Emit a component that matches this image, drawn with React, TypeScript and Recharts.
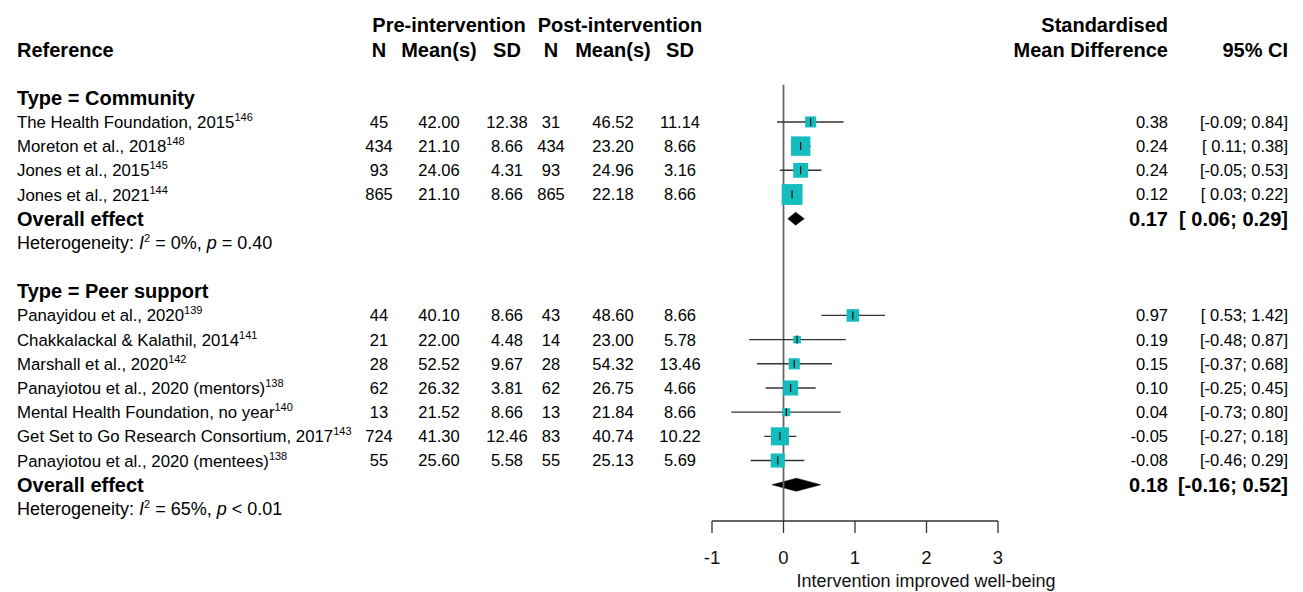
import {
  Area,
  ComposedChart,
  ErrorBar,
  ReferenceLine,
  Scatter,
  XAxis,
  YAxis,
  ZAxis,
} from "recharts"

const subgroups = ["Community", "Peer support"]
const studies = [
  "The Health Foundation, 2015",
  "Moreton et al., 2018",
  "Jones et al., 2015",
  "Jones et al., 2021",
  "Panayidou et al., 2020",
  "Chakkalackal & Kalathil, 2014",
  "Marshall et al., 2020",
  "Panayiotou et al., 2020 (mentors)",
  "Mental Health Foundation, no year",
  "Get Set to Go Research Consortium, 2017",
  "Panayiotou et al., 2020 (mentees)",
]
const refs = ["146", "148", "145", "144", "139", "141", "142", "138", "140", "143", "138"]
const studyGroup = [0, 0, 0, 0, 1, 1, 1, 1, 1, 1, 1]
const preN = [45, 434, 93, 865, 44, 21, 28, 62, 13, 724, 55]
const preMean = [42.0, 21.1, 24.06, 21.1, 40.1, 22.0, 52.52, 26.32, 21.52, 41.3, 25.6]
const preSD = [12.38, 8.66, 4.31, 8.66, 8.66, 4.48, 9.67, 3.81, 8.66, 12.46, 5.58]
const postN = [31, 434, 93, 865, 43, 14, 28, 62, 13, 83, 55]
const postMean = [46.52, 23.2, 24.96, 22.18, 48.6, 23.0, 54.32, 26.75, 21.84, 40.74, 25.13]
const postSD = [11.14, 8.66, 3.16, 8.66, 8.66, 5.78, 13.46, 4.66, 8.66, 10.22, 5.69]
const smd = [0.38, 0.24, 0.24, 0.12, 0.97, 0.19, 0.15, 0.1, 0.04, -0.05, -0.08]
const ciLow = [-0.09, 0.11, -0.05, 0.03, 0.53, -0.48, -0.37, -0.25, -0.73, -0.27, -0.46]
const ciHigh = [0.84, 0.38, 0.53, 0.22, 1.42, 0.87, 0.68, 0.45, 0.8, 0.18, 0.29]
const weights = [10.6, 32.7, 19.0, 37.7, 13.6, 5.0, 10.8, 19.7, 5.4, 28.3, 17.2]
const pooledSmd = [0.17, 0.18]
const pooledLow = [0.06, -0.16]
const pooledHigh = [0.29, 0.52]
const hetI2 = ["0%", "65%"]
const hetP = ["= 0.40", "< 0.01"]
const xTicks = [-1, 0, 1, 2, 3]

const FONT = "'Liberation Sans', Arial, Helvetica, sans-serif"
const TEAL = "#14BDBD"
const DIAMOND_H = 0.27

const fmt = (v: number) => v.toFixed(2)
const fmtCI = (lo: number, hi: number) =>
  `[${lo < 0 ? fmt(lo) : " " + fmt(lo)}; ${fmt(hi)}]`

// rows: heading, studies, overall, heterogeneity, blank
const tableRows: any[] = [
  { row: -3, x: 0, kind: "head1" },
  { row: -2, x: 0, kind: "head2" },
]
const studyRows: any[] = []
const diamonds: any[][] = []
let r = 0
subgroups.forEach((name, g) => {
  tableRows.push({ row: r++, x: 0, kind: "group", name })
  studies.forEach((s, i) => {
    if (studyGroup[i] !== g) return
    tableRows.push({ row: r, x: 0, kind: "study", i })
    studyRows.push({
      row: r,
      x: smd[i],
      weight: weights[i],
      err: [smd[i] - ciLow[i], ciHigh[i] - smd[i]],
    })
    r++
  })
  tableRows.push({ row: r, x: 0, kind: "overall", g })
  diamonds.push([
    { x: pooledLow[g], band: [r, r] },
    { x: pooledSmd[g], band: [r - DIAMOND_H, r + DIAMOND_H] },
    { x: pooledHigh[g], band: [r, r] },
  ])
  r++
  tableRows.push({ row: r++, x: 0, kind: "het", g })
  r++
})

const COL = { label: 17, n1: 379, m1: 439, sd1: 507, n2: 551, m2: 613, sd2: 680, smd: 1168, ci: 1288 }

function T(props: any) {
  const { x, y, anchor = "middle", bold, size, children } = props
  return (
    <text
      x={x}
      y={y}
      dy="0.36em"
      textAnchor={anchor}
      fontFamily={FONT}
      fontSize={size ?? (bold ? 20 : 16.5)}
      fontWeight={bold ? "bold" : "normal"}
      fill="#000"
    >
      {children}
    </text>
  )
}

function TableRow(props: any) {
  const { cy, payload } = props
  const p = payload
  if (p.kind === "head1") {
    return (
      <g>
        <T x={449} y={cy} bold>Pre-intervention</T>
        <T x={620} y={cy} bold>Post-intervention</T>
        <T x={COL.smd} y={cy} bold anchor="end">Standardised</T>
      </g>
    )
  }
  if (p.kind === "head2") {
    return (
      <g>
        <T x={COL.label} y={cy} bold anchor="start">Reference</T>
        <T x={COL.n1} y={cy} bold>N</T>
        <T x={COL.m1} y={cy} bold>Mean(s)</T>
        <T x={COL.sd1} y={cy} bold>SD</T>
        <T x={COL.n2} y={cy} bold>N</T>
        <T x={COL.m2} y={cy} bold>Mean(s)</T>
        <T x={COL.sd2} y={cy} bold>SD</T>
        <T x={COL.smd} y={cy} bold anchor="end">Mean Difference</T>
        <T x={COL.ci} y={cy} bold anchor="end">95% CI</T>
      </g>
    )
  }
  if (p.kind === "group") {
    return <T x={COL.label} y={cy} bold anchor="start">{"Type = " + p.name}</T>
  }
  if (p.kind === "study") {
    const i = p.i
    return (
      <g>
        <T x={COL.label} y={cy} anchor="start" size={16.8}>
          {studies[i]}
          <tspan fontSize={11} dy={-7}>{refs[i]}</tspan>
        </T>
        <T x={COL.n1} y={cy}>{preN[i]}</T>
        <T x={COL.m1} y={cy}>{fmt(preMean[i])}</T>
        <T x={COL.sd1} y={cy}>{fmt(preSD[i])}</T>
        <T x={COL.n2} y={cy}>{postN[i]}</T>
        <T x={COL.m2} y={cy}>{fmt(postMean[i])}</T>
        <T x={COL.sd2} y={cy}>{fmt(postSD[i])}</T>
        <T x={COL.smd} y={cy} anchor="end">{fmt(smd[i])}</T>
        <T x={COL.ci} y={cy} anchor="end">{fmtCI(ciLow[i], ciHigh[i])}</T>
      </g>
    )
  }
  if (p.kind === "overall") {
    const g = p.g
    return (
      <g>
        <T x={COL.label} y={cy} bold anchor="start">Overall effect</T>
        <T x={COL.smd} y={cy} bold anchor="end">{fmt(pooledSmd[g])}</T>
        <T x={COL.ci} y={cy} bold anchor="end">{fmtCI(pooledLow[g], pooledHigh[g])}</T>
      </g>
    )
  }
  if (p.kind === "het") {
    const g = p.g
    return (
      <T x={COL.label} y={cy} anchor="start" size={18}>
        {"Heterogeneity: "}
        <tspan fontStyle="italic">I</tspan>
        <tspan fontSize={11} dy={-7}>2</tspan>
        <tspan dy={7}>{" = " + hetI2[g] + ", "}</tspan>
        <tspan fontStyle="italic">p</tspan>
        {" " + hetP[g]}
      </T>
    )
  }
  return <g />
}

function EstimateTick(props: any) {
  const { cx, cy } = props
  return <line x1={cx} x2={cx} y1={cy - 4} y2={cy + 4} stroke="#000" strokeWidth={1.1} />
}

export default function App() {
  return (
    <div style={{ position: "absolute", left: 0, top: 0, background: "#fff" }}>
      <ComposedChart
        width={1303}
        height={592}
        margin={{ top: 1, right: 305, bottom: 0, left: 712 }}
      >
        <XAxis
          type="number"
          dataKey="x"
          domain={[-1, 3]}
          ticks={xTicks}
          interval={0}
          height={71}
          tickSize={12}
          tickMargin={18}
          axisLine={{ stroke: "#333", strokeWidth: 1.3 }}
          tickLine={{ stroke: "#333", strokeWidth: 1.3 }}
          tick={{ fill: "#111", fontSize: 18.5, fontFamily: FONT }}
          label={{
            value: "Intervention improved well-being",
            position: "insideBottom",
            offset: 5,
            dx: 71,
            fill: "#111",
            fontSize: 18,
            fontFamily: FONT,
          }}
        />
        <YAxis type="number" dataKey="row" domain={[-4, 17.5]} reversed hide />
        <ZAxis type="number" dataKey="weight" domain={[0, 40]} range={[0, 462]} />
        <ReferenceLine
          segment={[
            { x: 0, y: -0.54 },
            { x: 0, y: 17.5 },
          ]}
          stroke="#666"
          strokeWidth={1.8}
        />
        <Scatter
          data={studyRows}
          shape="square"
          fill={TEAL}
          isAnimationActive={false}
        />
        <Scatter data={studyRows} shape={EstimateTick} isAnimationActive={false}>
          <ErrorBar dataKey="err" direction="x" width={0} stroke="#333" strokeWidth={1.4} />
        </Scatter>
        {diamonds.map((d, k) => (
          <Area
            key={k}
            data={d}
            dataKey="band"
            type="linear"
            stroke="#000"
            strokeWidth={0.5}
            fill="#000"
            fillOpacity={1}
            dot={false}
            activeDot={false}
            isAnimationActive={false}
          />
        ))}
        <Scatter data={tableRows} shape={TableRow} isAnimationActive={false} />
      </ComposedChart>
    </div>
  )
}
